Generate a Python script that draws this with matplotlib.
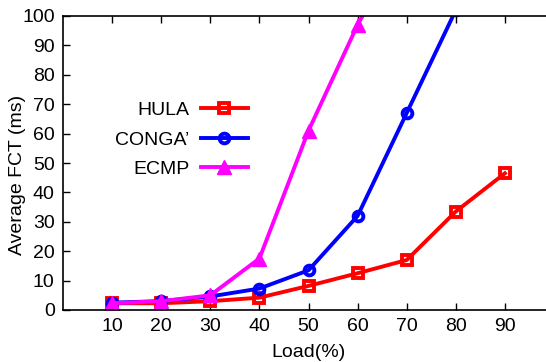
import matplotlib
matplotlib.use("Agg")
import matplotlib.pyplot as plt

plt.rcParams['font.family'] = ['Liberation Sans', 'DejaVu Sans']

loads = [10, 20, 30, 40, 50, 60, 70, 80, 90]
hula = [2.3, 2.3, 3.0, 4.2, 8.2, 12.5, 17.0, 33.5, 46.5]
conga = [2.5, 3.0, 4.6, 7.3, 13.5, 32.0, 67.0, 102.0]
ecmp = [2.3, 3.0, 5.0, 17.5, 61.0, 97.0, 127.0]

fig = plt.figure(figsize=(5.46, 3.62), dpi=100)
# right edge sits just outside the picture, like the original
ax = fig.add_axes([63 / 546, 52 / 362, 491 / 546, 294 / 362])

lw = 2.8
ax.plot(loads, hula, color='#ff0000', lw=lw, marker='s', ms=6.5, mfc='none',
        mew=2.8, label='HULA')
ax.plot(loads[:len(conga)], conga, color='#0000ff', lw=lw, marker='o', ms=7,
        mfc='none', mew=2.8, label="CONGA\u2019")
ax.plot(loads[:len(ecmp)], ecmp, color='#ff00ff', lw=lw, marker='^', ms=10,
        label='ECMP')

ax.set_xlim(0, 100)
ax.set_ylim(0, 100)
ax.set_xticks(loads)
ax.set_yticks(range(0, 101, 10))
ax.tick_params(direction='in', length=5, width=1, labelsize=14, top=True,
               pad=6)
for s in ax.spines.values():
    s.set_linewidth(1.2)
ax.set_xlabel('Load(%)', fontsize=14, labelpad=6)
ax.set_ylabel('Average FCT (ms)', fontsize=14)
ax.yaxis.set_label_coords(-37 / 491, 0.461)

leg = ax.legend(loc='upper left', bbox_to_anchor=(0.09, 0.735), frameon=False,
                fontsize=14, markerfirst=False, handlelength=2.4,
                handletextpad=0.6, labelspacing=0.6, borderaxespad=0)
for t in leg.get_texts():
    t.set_ha('right')

fig.savefig('out.png', dpi=100)
